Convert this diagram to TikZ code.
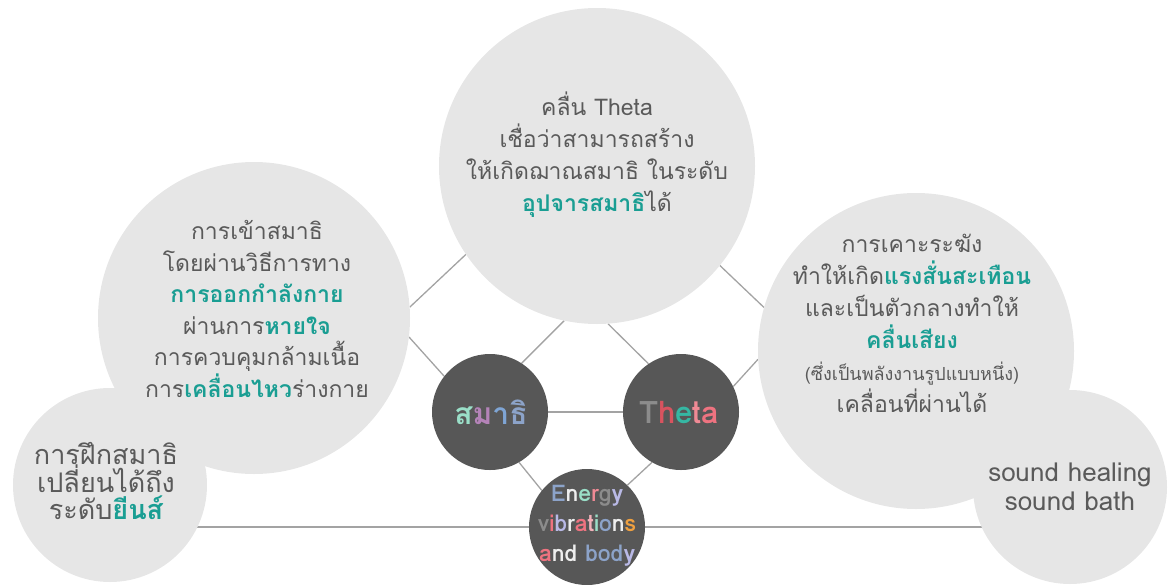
\documentclass[tikz,border=0pt]{standalone}
\usepackage{fontspec}
\usetikzlibrary{backgrounds}
\newfontfamily\thai[Script=Thai]{Loma}
\definecolor{lightc}{HTML}{E6E6E6}
\definecolor{darkc}{HTML}{575757}
\definecolor{linec}{HTML}{A3A3A3}
\definecolor{txtc}{HTML}{5A5A5A}
\definecolor{tealc}{HTML}{1A9E93}
\definecolor{cmint}{HTML}{9ADFC8}
\definecolor{cpurple}{HTML}{B483B8}
\definecolor{cblue}{HTML}{7FA5D5}
\definecolor{cbluegray}{HTML}{8CA3C9}
\definecolor{cred}{HTML}{D9535F}
\definecolor{ctealg}{HTML}{35B7A3}
\definecolor{cpink}{HTML}{F08A95}
\definecolor{cpinkr}{HTML}{EE7380}
\definecolor{cgray}{HTML}{8C8C8C}
\definecolor{cwhite}{HTML}{EEEEEE}
\definecolor{clav}{HTML}{B9B9E6}
\definecolor{corange}{HTML}{EFA040}
\definecolor{clpink}{HTML}{F2B2BA}
\newcommand\hl[1]{\textcolor{tealc}{\bfseries #1}}
\newcommand\cc[2]{\textcolor{#1}{#2}}
\tikzset{
  bigc/.style={circle, fill=lightc, inner sep=0pt},
  darkcirc/.style={circle, fill=darkc, inner sep=0pt, minimum size=116pt},
  conn/.style={draw=linec, line width=1.3pt},
  txtnode/.style={align=center, text=txtc, inner sep=0pt, font=\thai\fontsize{23}{32}\selectfont},
  colortxt/.style={inner sep=0pt, align=center},
}
\begin{document}
\begin{tikzpicture}[x=1pt,y=-1pt]
\useasboundingbox (0,0) rectangle (1173,584);
% big circles
\node[bigc, minimum size=316pt] (top) at (597,166) {};
\node[bigc, minimum size=312pt] (left) at (254,318) {};
\node[bigc, minimum size=316pt] (right) at (916,351) {};
\node[bigc, minimum size=194pt] (bl) at (110,485) {};
\node[bigc, minimum size=194pt] (br) at (1070,487) {};
% dark circles
\node[darkcirc] (sam) at (490,412) {};
\node[darkcirc] (theta) at (681,412) {};
\node[darkcirc] (energy) at (587,527) {};
% connectors
\begin{pgfonlayer}{background}
\draw[conn] (top.214) -- (left.4);
\draw[conn] (top.321) -- (right.164);
\draw[conn] (left.353) -- (sam.142);
\draw[conn] (theta.26) -- (right.183);
\draw[conn] (sam.57) -- (top.258);
\draw[conn] (theta.124) -- (top.274);
\draw[conn] (sam) -- (theta);
\draw[conn] (sam.300) -- (energy.141);
\draw[conn] (theta.240) -- (energy.46);
\draw[conn] (energy.west) -- (energy.west -| bl.center);
\draw[conn] (energy.east) -- (energy.east -| br.center);
\end{pgfonlayer}
% texts
\node[txtnode] (toptxt) at (597,155) {คลื่น Theta\\เชื่อว่าสามารถสร้าง\\ให้เกิดฌาณสมาธิ ในระดับ\\\hl{อุปจารสมาธิ}ได้};
\node[txtnode, font=\thai\fontsize{23}{31.5}\selectfont] (lefttxt) at (257,309) {การเข้าสมาธิ\\โดยผ่านวิธีการทาง\\\hl{การออกกำลังกาย}\\ผ่านการ\hl{หายใจ}\\การควบคุมกล้ามเนื้อ\\การ\hl{เคลื่อนไหว}ร่างกาย};
\node[txtnode] (righttxt) at (912,323) {การเคาะระฆัง\\ทำให้เกิด\hl{แรงสั่นสะเทือน}\\และเป็นตัวกลางทำให้\\\hl{คลื่นเสียง}\\{\fontsize{18}{30}\selectfont (ซึ่งเป็นพลังงานรูปแบบหนึ่ง)}\\เคลื่อนที่ผ่านได้};
\node[txtnode, font=\thai\fontsize{27}{27}\selectfont] (bltxt) at (106,481) {การฝึกสมาธิ\\เปลี่ยนได้ถึง\\ระดับ\hl{ยีนส์}};
\node[txtnode, font=\thai\fontsize{26}{29}\selectfont] (brtxt) at (1070,487) {sound healing\\sound bath};
\node[colortxt, font=\thai\bfseries\fontsize{30}{30}\selectfont] (samtxt) at (491,412) {\cc{cmint}{ส}\cc{cpurple}{ม}\cc{cblue}{า}\cc{cbluegray}{ธิ}};
\node[colortxt, font=\thai\bfseries\fontsize{31}{31}\selectfont] (thetatxt) at (679,412) {\cc{cgray}{T}\cc{cred}{h}\cc{ctealg}{e}\cc{cpink}{t}\cc{cpinkr}{a}};
\node[colortxt, font=\thai\bfseries\fontsize{23}{30}\selectfont] (energytxt) at (587,526) {\cc{cbluegray}{E}\cc{cwhite}{n}\cc{cmint}{e}\cc{cpink}{r}\cc{cgray}{g}\cc{clav}{y}\\\cc{cgray}{v}\cc{cpinkr}{i}\cc{clav}{b}\cc{cwhite}{r}\cc{cpinkr}{a}\cc{clpink}{t}\cc{cmint}{i}\cc{cbluegray}{o}\cc{cwhite}{n}\cc{corange}{s}\\\cc{cpinkr}{a}\cc{cwhite}{n}\cc{cwhite}{d} \cc{cbluegray}{b}\cc{cbluegray}{o}\cc{cbluegray}{d}\cc{clav}{y}};
\end{tikzpicture}
\end{document}
